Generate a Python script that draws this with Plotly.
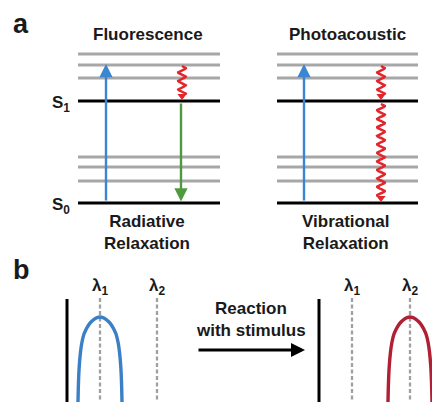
import numpy as np
import plotly.graph_objects as go

W, H = 440, 402
PAGE_OFFSET = 8  # default body margin of the written page
FONT = "Liberation Sans, Arial, sans-serif"
TXT = "#1a1a1a"

# ---- panel a: energy levels ----
panel_names = ["Fluorescence", "Photoacoustic"]
panel_x0 = [78, 277]
panel_x1 = [220, 418]
title_x = [148, 347]
title_y = 34
gray_upper_y = [54, 65, 78]
gray_lower_y = [157, 167, 181]
s1_y = 101
s0_y = 203
bottom_labels = ["Radiative<br>Relaxation", "Vibrational<br>Relaxation"]
bottom_label_y = 232
# excitation (blue) arrows
excite_x = [106, 304]
excite_tip_y = 64
# emission (green) arrow in fluorescence panel
emit_x = 181
# wavy relaxation arrows: (x, y_start, y_end)
wave_x = [182, 381, 381]
wave_y0 = [66, 66, 104]
wave_y1 = [94, 94, 196]
wave_amp = 3.8
wave_period = 8.5

# ---- panel b: spectra ----
axis_x = [67, 319]
axis_top = 299
lam1_x = [100, 352]
lam2_x = [157, 410]
lam_label_y = 287
peak_center = [100, 410]
peak_y = 317
profile_dx = [0, 3, 6, 9, 12, 14, 16, 18, 19.5, 20.8, 21.5, 22, 22.2]
profile_dy = [0, 0.6, 2.4, 5, 9, 12.5, 17, 25, 35, 50, 65, 85, 95]
curve_colors = ["#3b7fc6", "#b01f33"]
reaction_lines = ["Reaction", "with stimulus"]
reaction_y = [308, 330]
reaction_x = 251
react_arrow_x = [197, 305]
react_arrow_y = 350

fig = go.Figure()

def line(xs, ys, color, width, dash=None):
    fig.add_trace(go.Scatter(x=xs, y=ys, mode="lines", hoverinfo="skip",
                             line=dict(color=color, width=width, dash=dash),
                             showlegend=False))

# energy level lines
for x0, x1 in zip(panel_x0, panel_x1):
    for gy in gray_upper_y + gray_lower_y:
        line([x0, x1], [gy, gy], "#a7a7a7", 2.8)
    line([x0, x1], [s1_y, s1_y], "#000000", 3)
    line([x0, x1], [s0_y, s0_y], "#000000", 3)

# wavy arrows
for wx, y0, y1 in zip(wave_x, wave_y0, wave_y1):
    yy = np.linspace(y0, y1, 200)
    xx = wx + wave_amp * np.sin(2 * np.pi * (yy - y0) / wave_period)
    line(xx, yy, "#e3262b", 2.5)
    fig.add_trace(go.Scatter(x=[wx], y=[y1 + 2], mode="markers", hoverinfo="skip",
                             marker=dict(symbol="triangle-down", size=8, color="#e3262b"),
                             showlegend=False))

annotations = []
# blue excitation arrows
for ex in excite_x:
    annotations.append(dict(x=ex, y=excite_tip_y, ax=ex, ay=s0_y - 1, xref="x", yref="y",
                            axref="x", ayref="y", showarrow=True, arrowhead=2, arrowsize=1.1,
                            arrowwidth=2.4, arrowcolor="#3b86d0", text=""))
# green emission arrow
annotations.append(dict(x=emit_x, y=s0_y - 1.5, ax=emit_x, ay=s1_y + 1, xref="x", yref="y",
                        axref="x", ayref="y", showarrow=True, arrowhead=2, arrowsize=1.1,
                        arrowwidth=2.4, arrowcolor="#4f9a3f", text=""))

# titles and labels
for name, tx in zip(panel_names, title_x):
    annotations.append(dict(x=tx, y=title_y, xref="x", yref="y", text="<b>%s</b>" % name,
                            showarrow=False, font=dict(family=FONT, size=17, color=TXT)))
for lab, tx in zip(bottom_labels, title_x):
    annotations.append(dict(x=tx - 1, y=bottom_label_y, xref="x", yref="y", text="<b>%s</b>" % lab,
                            showarrow=False, font=dict(family=FONT, size=17, color=TXT)))
for lab, ly in zip(["S<sub>1</sub>", "S<sub>0</sub>"], [s1_y, s0_y]):
    annotations.append(dict(x=72, y=ly + 3, xref="x", yref="y", text="<b>%s</b>" % lab,
                            xanchor="right", showarrow=False,
                            font=dict(family=FONT, size=17, color=TXT)))
annotations.append(dict(x=11, y=24, xref="x", yref="y", text="<b>a</b>", xanchor="left",
                        showarrow=False, font=dict(family=FONT, size=27, color=TXT)))
annotations.append(dict(x=11, y=270, xref="x", yref="y", text="<b>b</b>", xanchor="left",
                        showarrow=False, font=dict(family=FONT, size=27, color=TXT)))

# panel b
for i in range(2):
    line([axis_x[i], axis_x[i]], [axis_top, H + 20], "#000000", 3)
    for lx, lab in zip([lam1_x[i], lam2_x[i]], ["λ<sub>1</sub>", "λ<sub>2</sub>"]):
        line([lx, lx], [axis_top - 1, H + 20], "#a0a0a0", 2.3, dash="4px,2.5px")
        annotations.append(dict(x=lx, y=lam_label_y, xref="x", yref="y", text="<b>%s</b>" % lab,
                                showarrow=False, font=dict(family=FONT, size=17, color=TXT)))
    dx = np.array(profile_dx)
    dy = np.array(profile_dy)
    cx = np.concatenate([peak_center[i] - dx[::-1], peak_center[i] + dx[1:]])
    cy = np.concatenate([peak_y + dy[::-1], peak_y + dy[1:]])
    fig.add_trace(go.Scatter(x=cx, y=cy, mode="lines", hoverinfo="skip",
                             line=dict(color=curve_colors[i], width=3.4, shape="spline"),
                             showlegend=False))

for txt, ty in zip(reaction_lines, reaction_y):
    annotations.append(dict(x=reaction_x, y=ty, xref="x", yref="y", text="<b>%s</b>" % txt,
                            showarrow=False, font=dict(family=FONT, size=17, color=TXT)))
annotations.append(dict(x=react_arrow_x[1], y=react_arrow_y, ax=react_arrow_x[0], ay=react_arrow_y,
                        xref="x", yref="y", axref="x", ayref="y", showarrow=True, arrowhead=2,
                        arrowsize=1, arrowwidth=2.8, arrowcolor="#000000", text=""))

fig.update_layout(
    width=W, height=H, autosize=False,
    margin=dict(l=0, r=0, t=0, b=0),
    paper_bgcolor="white", plot_bgcolor="white",
    # axis ranges shifted so that data coordinates equal window pixels
    xaxis=dict(range=[PAGE_OFFSET, W + PAGE_OFFSET], visible=False, fixedrange=True),
    yaxis=dict(range=[H + PAGE_OFFSET, PAGE_OFFSET], visible=False, fixedrange=True),
    annotations=annotations,
)
fig.write_html("out.html")
